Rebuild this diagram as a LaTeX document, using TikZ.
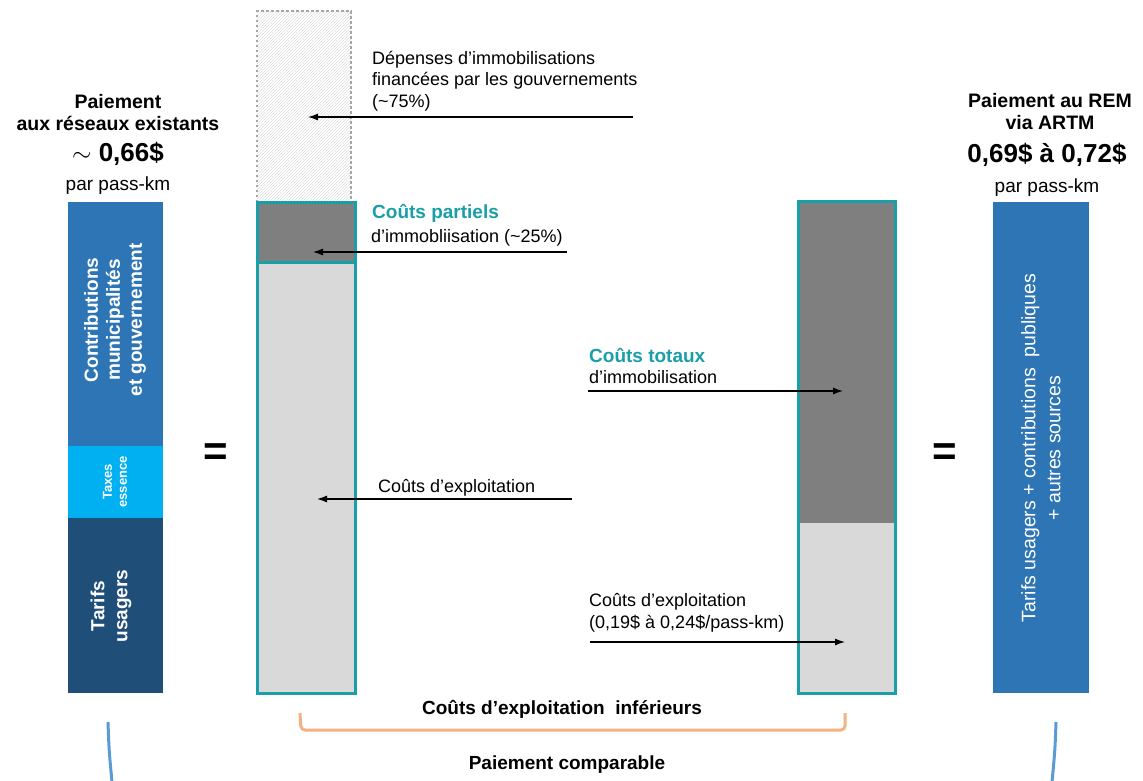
\documentclass[tikz,border=0pt]{standalone}
\usepackage{fontspec}
\setmainfont{Liberation Sans}
\usetikzlibrary{arrows.meta,patterns}
\definecolor{midblue}{HTML}{2E75B6}
\definecolor{taxcyan}{HTML}{00B0F0}
\definecolor{navyblue}{HTML}{1F4E79}
\definecolor{remteal}{HTML}{1A9EA8}
\definecolor{capgray}{HTML}{7F7F7F}
\definecolor{opgray}{HTML}{D9D9D9}
\definecolor{dotgray}{HTML}{A6A6A6}
\definecolor{bracketorange}{HTML}{F4B183}
\definecolor{curveblue}{HTML}{5B9BD5}
\begin{document}
\begin{tikzpicture}[x=1pt,y=-1pt,
    txt/.style={anchor=base west,align=left,inner sep=0pt,font=\fontsize{18}{21.5}\selectfont},
    tealhead/.style={anchor=base west,inner sep=0pt,text=remteal,font=\bfseries\fontsize{19}{20}\selectfont},
    head/.style={anchor=base,align=center,inner sep=0pt,font=\bfseries\fontsize{19.5}{22}\selectfont},
    price/.style={anchor=base,inner sep=0pt,font=\bfseries\fontsize{26}{28}\selectfont},
    unit/.style={anchor=base,inner sep=0pt,font=\fontsize{19}{20}\selectfont},
    equal/.style={inner sep=0pt,font=\bfseries\fontsize{42}{42}\selectfont},
    pointer/.style={-{Latex[length=10pt,width=7pt]},line width=1.2pt},
    barlabel/.style={rotate=90,align=center,text=white,inner sep=0pt},
    frame/.style={remteal,line width=3pt}]
    \useasboundingbox (0,0) rectangle (1143,780);

    % Existing networks
    \node[head] (oldtitle) at (118,130) {Paiement\\aux réseaux existants};
    \node[price] (oldprice) at (118,161) {$\sim$ 0,66\$};
    \node[unit] (oldunit) at (118,190) {par pass-km};
    \fill[midblue] (68,202) rectangle (163,446);
    \fill[taxcyan] (68,446) rectangle (163,518);
    \fill[navyblue] (68,518) rectangle (163,693);
    \node[barlabel,font=\bfseries\fontsize{19}{22}\selectfont] (contrib) at (115,320) {Contributions\\municipalités\\et gouvernement};
    \node[barlabel,font=\bfseries\fontsize{13}{15}\selectfont] (taxes) at (115,482) {Taxes\\essence};
    \node[barlabel,font=\bfseries\fontsize{19}{23}\selectfont] (fares) at (111,606) {Tarifs\\usagers};

    % Equal signs
    \node[equal] (eqleft) at (216,455) {=};
    \node[equal] (eqright) at (945,455) {=};

    % Partial capital costs
    \path[pattern=north east lines,pattern color=gray!25] (257,11) rectangle (351,202);
    \draw[dotgray,line width=2.5pt,dash pattern=on 2.5pt off 2.5pt] (257,202) -- (257,11) -- (351,11) -- (351,202);
    \fill[capgray] (257,202) rectangle (355,262);
    \fill[opgray] (257,262) rectangle (355,693);
    \draw[frame] (257,202) rectangle (355,693);
    \draw[frame] (257,262) -- (355,262);

    % Total capital costs
    \fill[capgray] (798,201) rectangle (895,523);
    \fill[opgray] (798,523) rectangle (895,693);
    \draw[frame] (798,201) rectangle (895,693);

    % REM payment
    \node[head] (remtitle) at (1050,129) {Paiement au REM\\via ARTM};
    \node[price] (remprice) at (1047,162) {0,69\$ à 0,72\$};
    \node[unit] (remunit) at (1047,192) {par pass-km};
    \fill[midblue] (993,202) rectangle (1089,693);
    \node[barlabel,font=\fontsize{19.5}{25}\selectfont] (remsources) at (1041,448) {Tarifs usagers + contributions\ \ publiques\\+ autres sources};

    % Labels and pointers
    \node[txt] (govspend) at (372,107) {Dépenses d’immobilisations\\financées par les gouvernements\\(\char`\~75\%)};
    \coordinate (govtail) at (633,117);
    \coordinate (govtip) at (308,117);
    \draw[pointer] (govtail) -- (govtip);

    \node[tealhead] (parthead) at (372,218) {Coûts partiels};
    \node[txt] (partcap) at (371,242) {d’immobliisation (\char`\~25\%)};
    \coordinate (parttail) at (567,252);
    \coordinate (parttip) at (313,252);
    \draw[pointer] (parttail) -- (parttip);

    \node[txt] (leftops) at (378,492) {Coûts d’exploitation};
    \coordinate (lopstail) at (572,499);
    \coordinate (lopstip) at (317,499);
    \draw[pointer] (lopstail) -- (lopstip);

    \node[tealhead] (tothead) at (589,362) {Coûts totaux};
    \node[txt] (totcap) at (589,383) {d’immobilisation};
    \coordinate (tottail) at (588,391);
    \coordinate (tottip) at (843,391);
    \draw[pointer] (tottail) -- (tottip);

    \node[txt] (rightops) at (589,628) {Coûts d’exploitation\\(0,19\$ à 0,24\$/pass-km)};
    \coordinate (ropstail) at (590,642);
    \coordinate (ropstip) at (845,642);
    \draw[pointer] (ropstail) -- (ropstip);

    % Brackets
    \node[head,font=\bfseries\fontsize{19}{20}\selectfont] (lowerops) at (562,714) {Coûts d’exploitation\ \ inférieurs};
    \coordinate (brl) at (300,713);
    \coordinate (brr) at (845,713);
    \draw[bracketorange,line width=3pt,rounded corners=4pt] (brl) -- ++(1,17) -| (brr);
    \node[head,font=\bfseries\fontsize{19}{20}\selectfont] (comparable) at (567,769) {Paiement comparable};
    \coordinate (cl) at (108,722);
    \coordinate (cr) at (1056,722);
    \draw[curveblue,line width=3pt] (cl) .. controls (109,750) .. (112,782);
    \draw[curveblue,line width=3pt] (cr) .. controls (1055,750) .. (1052,782);
\end{tikzpicture}
\end{document}
